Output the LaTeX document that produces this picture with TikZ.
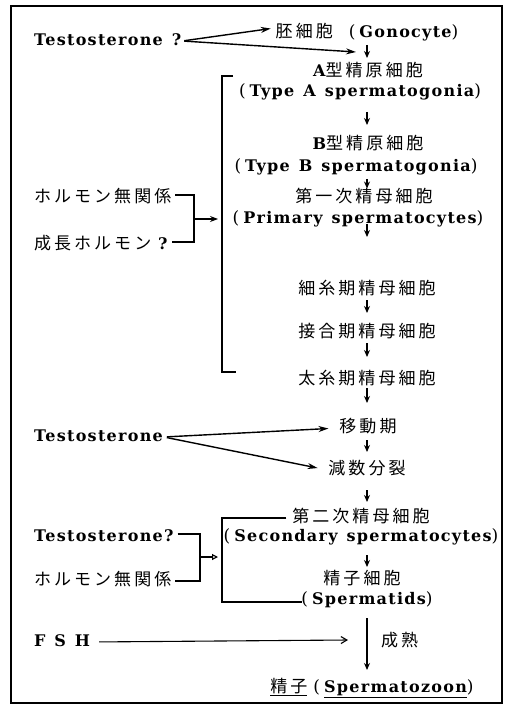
\documentclass[tikz,border=0pt]{standalone}
\usepackage{fontspec}
\usetikzlibrary{arrows.meta}
\newfontfamily\jpfont{Noto Sans CJK JP}[LetterSpace=18]
\newfontfamily\enfont{DejaVu Serif}[LetterSpace=8]
\newfontfamily\pfont{DejaVu Serif}
\newcommand\jtxt[1]{{\jpfont\fontsize{17}{19}\selectfont #1}}
\newcommand\etxt[1]{{\enfont\bfseries\fontsize{16}{18}\selectfont #1}}
\newcommand\wsp{\hspace{9pt}}
\newcommand\lpar{{\pfont\fontsize{17}{19}\selectfont(}\hspace{4pt}}
\newcommand\rpar{{\pfont\fontsize{17}{19}\selectfont)}}
\begin{document}
\begin{tikzpicture}[x=1pt,y=-1pt,
  every node/.style={inner sep=1pt, outer sep=0pt, text height=13pt, text depth=4pt},
  lbl/.style={anchor=west},
  ln/.style={line width=1.1pt},
  dar/.style={line width=1.1pt, -{Stealth[length=7pt,width=6pt]}},
  tar/.style={line width=1.4pt, -{Stealth[length=10pt,width=6pt]}},
  oar/.style={line width=1.1pt, -{Triangle[open,length=6pt,width=6pt]}},
  frame/.style={line width=1.2pt}]
\useasboundingbox (0,0) rectangle (510,708);
\draw[frame] (11,6) rectangle (502,703);

% column coordinate
\coordinate (col) at (367,0);

% main column
\node (gon)  at (367,33)  {\jtxt{胚細胞}\hspace{16pt}\lpar\etxt{Gonocyte}\rpar};
\node (A)    at (368,72)  {\etxt{A}\jtxt{型精原細胞}};
\node (Aen)  at (360,92)  {\lpar\etxt{Type}\wsp\etxt{A}\wsp\etxt{spermatogonia}\rpar};
\node (B)    at (368,145) {\etxt{B}\jtxt{型精原細胞}};
\node (Ben)  at (356,167) {\lpar\etxt{Type}\wsp\etxt{B}\wsp\etxt{spermatogonia}\rpar};
\node (P1)   at (364,198) {\jtxt{第一次精母細胞}};
\node (P1en) at (358,219) {\lpar\etxt{Primary}\wsp\etxt{spermatocytes}\rpar};
\node (Lep)  at (367,290) {\jtxt{細糸期精母細胞}};
\node (Zyg)  at (367,333) {\jtxt{接合期精母細胞}};
\node (Pac)  at (367,380) {\jtxt{太糸期精母細胞}};
\node (Mov)  at (368,428) {\jtxt{移動期}};
\node (Mei)  at (367,470) {\jtxt{減数分裂}};
\node (S2)   at (361,518) {\jtxt{第二次精母細胞}};
\node (S2en) at (361,537) {\lpar\etxt{Secondary}\wsp\etxt{spermatocytes}\rpar};
\node (Sp)   at (362,580) {\jtxt{精子細胞}};
\node (Spen) at (367,600) {\lpar\etxt{Spermatids}\rpar};
\node[lbl] (Mat) at (380,642) {\jtxt{成熟}};
\node (Sz)   at (372,688) {\underline{\jtxt{精子}}\hspace{6pt}\lpar\underline{\etxt{Spermatozoon}}\rpar};

% left labels
\node[lbl] (T1) at (33,41)  {\etxt{Testosterone}\wsp\etxt{?}};
\node[lbl] (H1) at (33,198) {\jtxt{ホルモン無関係}};
\node[lbl] (G1) at (33,245) {\jtxt{成長ホルモン}\etxt{ ?}};
\node[lbl] (T2) at (33,437) {\etxt{Testosterone}};
\node[lbl] (T3) at (33,537) {\etxt{Testosterone?}};
\node[lbl] (H2) at (33,581) {\jtxt{ホルモン無関係}};
\node[lbl] (F)  at (33,642) {\etxt{F\wsp S\wsp H}};

% down arrows
\draw[dar, shorten <=2.5pt, shorten >=4.5pt] (gon.south -| col) -- (A.north -| col);
\draw[dar, shorten <=10.5pt, shorten >=10.5pt] (Aen.south -| col) -- (B.north -| col);
\draw[dar, shorten <=2.5pt, shorten >=0pt] (Ben.south -| col) -- (P1.north -| col);
\draw[dar, shorten <=-4.5pt, shorten >=43.5pt] (P1en.south -| col) -- (Lep.north -| col);
\draw[dar, shorten <=0.5pt, shorten >=10.5pt] (Lep.south -| col) -- (Zyg.north -| col);
\draw[dar, shorten <=0.5pt, shorten >=13.5pt] (Zyg.south -| col) -- (Pac.north -| col);
\draw[dar, shorten <=-1.5pt, shorten >=15.5pt] (Pac.south -| col) -- (Mov.north -| col);
\draw[dar, shorten <=2.5pt, shorten >=8.5pt] (Mov.south -| col) -- (Mei.north -| col);
\draw[dar, shorten <=10.5pt, shorten >=6.5pt] (Mei.south -| col) -- (S2.north -| col);
\draw[dar, shorten <=8.5pt, shorten >=3.5pt] (S2en.south -| col) -- (Sp.north -| col);
\draw[dar, shorten <=8.5pt, shorten >=8.5pt] (Spen.south -| col) -- (Sz.north -| col);

% Testosterone ? arrows (top)
\coordinate (g1) at (356,52);
\draw[tar, shorten <=2pt, shorten >=4pt] (T1.east) -- ([yshift=5pt]gon.west);
\draw[tar, shorten <=2pt] (T1.east) -- (g1);

% upper bracket
\coordinate (bt1) at (222,76);
\coordinate (bb1) at (222,372);
\draw[ln] ([xshift=11pt]bt1) -- (bt1) -- (bb1) -- ([xshift=14pt]bb1);
\coordinate (lb1) at (194,219);
\draw[ln] ([xshift=3pt,yshift=3pt]H1.east) -| (lb1) |- ([xshift=3pt,yshift=3pt]G1.east);
\draw[ln, -{Stealth[length=8pt,width=6pt]}, shorten >=4pt] (lb1) -- (lb1 -| bt1);

% middle Testosterone arrows
\draw[tar, shorten <=3pt, shorten >=10pt] (T2.east) -- (Mov.west);
\draw[tar, shorten <=3pt, shorten >=10pt] (T2.east) -- (Mei.west);

% lower brackets
\coordinate (lb2) at (200,557);
\coordinate (br2) at (222,557);
\draw[ln] ([xshift=3pt,yshift=3pt]T3.east) -| (lb2) |- ([xshift=3pt]H2.east);
\draw[oar, shorten >=4pt] (lb2) -- (br2);
\draw[ln] ([xshift=-5pt]S2.west) -| (br2) |- ([xshift=2pt,yshift=-2pt]Spen.west);

% FSH
\coordinate (fe) at (348,640);
\draw[line width=1.1pt, -{Straight Barb[length=6pt,width=7pt]}, shorten <=8pt] (F.east) -- (fe);
\end{tikzpicture}
\end{document}
